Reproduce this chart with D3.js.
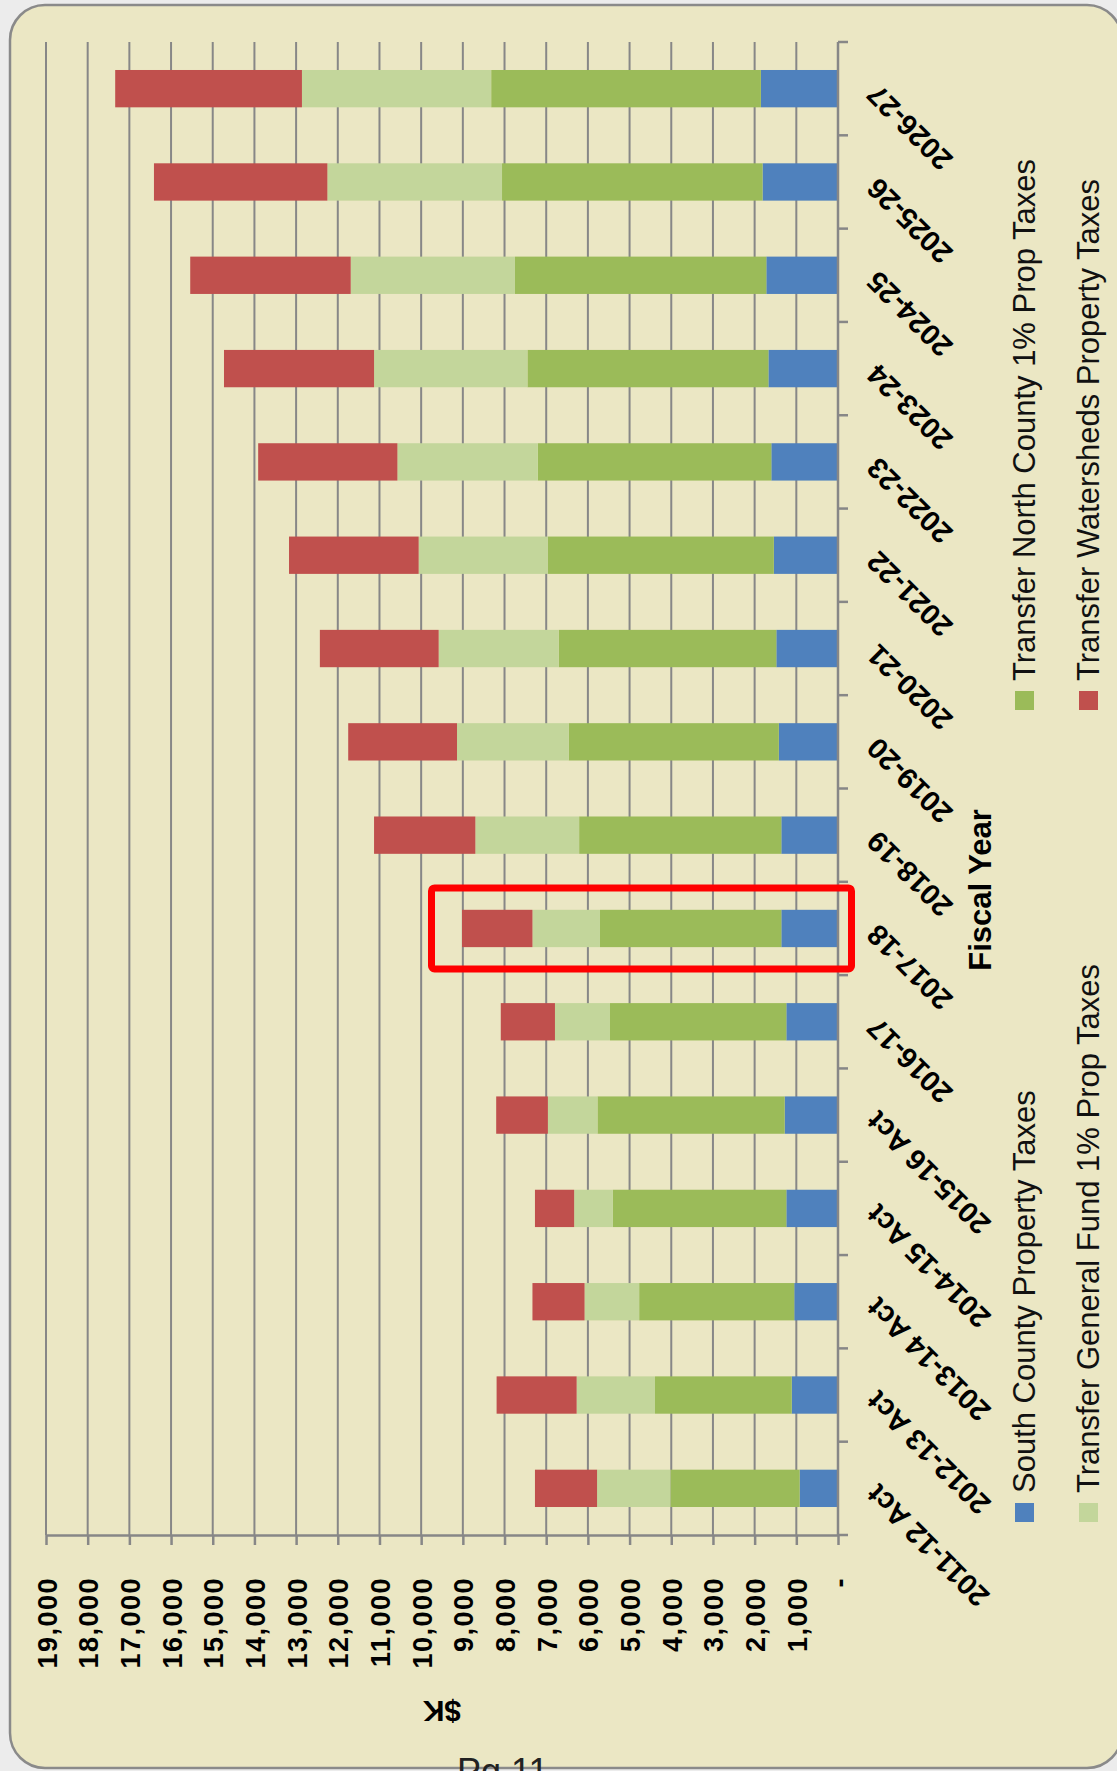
<!DOCTYPE html>
<html>
<head>
<meta charset="utf-8">
<script src="https://cdn.jsdelivr.net/npm/d3@7"></script>
<style>
  body { margin: 0; background: #ececec; }
  svg { display: block; font-family: "Liberation Sans", Arial, sans-serif; }
</style>
</head>
<body>
<svg id="chart"></svg>
<script>
var W = 1117, H = 1771;

// categories (bottom to top on the rotated page)
var categories = ['2011-12 Act', '2012-13 Act', '2013-14 Act', '2014-15 Act', '2015-16 Act',
    '2016-17', '2017-18', '2018-19', '2019-20', '2020-21', '2021-22', '2022-23',
    '2023-24', '2024-25', '2025-26', '2026-27'];
var seriesNames = ['South County Property Taxes', 'Transfer North County 1% Prop Taxes',
    'Transfer General Fund 1% Prop Taxes', 'Transfer Watersheds Property Taxes'];
var southCounty = [920, 1110, 1050, 1240, 1280, 1240, 1360, 1360, 1420, 1480, 1540, 1600, 1670, 1720, 1810, 1850];
var northCounty = [3100, 3280, 3720, 4160, 4490, 4230, 4350, 4850, 5040, 5220, 5420, 5600, 5780, 6030, 6250, 6470];
var generalFund = [1760, 1880, 1310, 930, 1190, 1320, 1620, 2490, 2680, 2880, 3100, 3370, 3680, 3940, 4190, 4540];
var watersheds = [1490, 1920, 1250, 940, 1240, 1300, 1690, 2430, 2610, 2850, 3110, 3340, 3600, 3850, 4160, 4480];
var valueTicks = d3.range(0, 19001, 1000);
var highlightYear = '2017-18';

var COLORS = ['#4f81bd', '#9bbb59', '#c3d69b', '#c0504d'];
var PLOT = { LEFT: 46, RIGHT: 838, TOP: 42, BOTTOM: 1535 };

var rows = categories.map(function (c, i) {
    return { cat: c, s0: southCounty[i], s1: northCounty[i], s2: generalFund[i], s3: watersheds[i] };
});
var stacked = d3.stack().keys(['s0', 's1', 's2', 's3'])(rows);

var xScale = d3.scaleLinear()
    .domain([0, 19000])
    .range([PLOT.RIGHT, PLOT.LEFT]);
var yScale = d3.scaleBand()
    .domain(categories)
    .range([PLOT.BOTTOM, PLOT.TOP])
    .paddingInner(0.6)
    .paddingOuter(0.3);
var step = yScale.step();

var svg = d3.select('#chart')
    .attr('width', W)
    .attr('height', H);

svg.append('rect')
    .attr('width', W).attr('height', H)
    .style('fill', '#ececec');
// slide panel
svg.append('rect')
    .attr('x', 10).attr('y', 5)
    .attr('width', 1112).attr('height', 1763)
    .attr('rx', 35)
    .style('fill', '#ebe7c4')
    .style('stroke', '#8a8a8a')
    .style('stroke-width', 2.5);

// gridlines
svg.append('g')
    .selectAll('line')
    .data(valueTicks.filter(function (d) { return d > 0; }))
    .enter().append('line')
    .attr('x1', function (d) { return xScale(d); })
    .attr('x2', function (d) { return xScale(d); })
    .attr('y1', PLOT.TOP)
    .attr('y2', PLOT.BOTTOM)
    .style('stroke', '#878787')
    .style('stroke-width', 2);

// stacked bars
svg.append('g')
    .selectAll('g')
    .data(stacked)
    .enter().append('g')
    .style('fill', function (d, i) { return COLORS[i]; })
    .selectAll('rect')
    .data(function (d) { return d; })
    .enter().append('rect')
    .attr('x', function (d) { return xScale(d[1]); })
    .attr('y', function (d) { return yScale(d.data.cat); })
    .attr('width', function (d) { return xScale(d[0]) - xScale(d[1]); })
    .attr('height', yScale.bandwidth());

// value axis (bottom of page)
var xAxis = d3.axisBottom(xScale)
    .tickValues(valueTicks)
    .tickSize(10)
    .tickSizeOuter(0)
    .tickFormat(function (d) { return d === 0 ? '-' : d3.format(',')(d); });
var gx = svg.append('g')
    .attr('transform', 'translate(0,' + PLOT.BOTTOM + ')')
    .call(xAxis);
gx.select('.domain').style('stroke', '#878787').style('stroke-width', 2.5);
gx.selectAll('.tick line').style('stroke', '#878787').style('stroke-width', 2.5);
gx.selectAll('.tick text')
    .attr('x', 0).attr('y', 0).attr('dy', null)
    .attr('transform', 'translate(10,42) rotate(-90)')
    .style('text-anchor', 'end')
    .style('font-family', '"Liberation Sans", Arial, sans-serif')
    .style('font-size', '27px')
    .style('font-weight', 'bold')
    .style('letter-spacing', '1.5px')
    .style('fill', '#000');

// category axis (right of bars)
var gy = svg.append('g')
    .attr('transform', 'translate(' + PLOT.RIGHT + ',0)')
    .call(d3.axisRight(yScale).tickSize(0).tickSizeOuter(0));
gy.select('.domain')
    .attr('d', 'M0,' + PLOT.TOP + 'V' + PLOT.BOTTOM)
    .style('stroke', '#878787').style('stroke-width', 2.5);
gy.selectAll('.tick text')
    .attr('x', 0).attr('y', 0).attr('dy', null)
    .attr('transform', 'translate(41,-6) rotate(-135)')
    .style('text-anchor', 'end')
    .style('font-family', '"Liberation Sans", Arial, sans-serif')
    .style('font-size', '29px')
    .style('font-weight', 'bold')
    .style('fill', '#000');
var bounds = categories.map(function (c) { return yScale(c) + yScale.bandwidth() + step * 0.3; });
bounds.push(PLOT.TOP);
gy.append('g')
    .selectAll('line')
    .data(bounds)
    .enter().append('line')
    .attr('x1', 0).attr('x2', 10)
    .attr('y1', function (d) { return d; })
    .attr('y2', function (d) { return d; })
    .style('stroke', '#878787')
    .style('stroke-width', 2.5);

// axis titles
svg.append('text')
    .attr('transform', 'translate(991,890) rotate(-90)')
    .style('text-anchor', 'middle')
    .style('font-size', '31px')
    .style('font-weight', 'bold')
    .text('Fiscal Year');
svg.append('text')
    .attr('transform', 'translate(' + ((PLOT.LEFT + PLOT.RIGHT) / 2) + ',1701) rotate(180)')
    .style('text-anchor', 'middle')
    .style('font-size', '30px')
    .style('font-weight', 'bold')
    .text('$K');

// legend, two rows by two columns, rotated with the page
var legendPos = [
    { bx: 1035, sy: 1493 }, { bx: 1035, sy: 681 },
    { bx: 1099, sy: 1493 }, { bx: 1099, sy: 681 }
];
var legend = svg.append('g')
    .selectAll('g')
    .data(seriesNames)
    .enter().append('g');
legend.append('rect')
    .attr('x', function (d, i) { return legendPos[i].bx - 20; })
    .attr('y', function (d, i) { return legendPos[i].sy + 10; })
    .attr('width', 19).attr('height', 19)
    .style('fill', function (d, i) { return COLORS[i]; });
legend.append('text')
    .attr('transform', function (d, i) {
        return 'translate(' + legendPos[i].bx + ',' + legendPos[i].sy + ') rotate(-90)';
    })
    .style('font-size', '31px')
    .style('fill', '#111')
    .text(function (d) { return d; });

// highlight box around one year
var hc = yScale(highlightYear) + yScale.bandwidth() / 2;
svg.append('rect')
    .attr('x', 431.5)
    .attr('y', hc - 40.5)
    .attr('width', 420)
    .attr('height', 81)
    .attr('rx', 3)
    .style('fill', 'none')
    .style('stroke', '#ff0000')
    .style('stroke-width', 7);

svg.append('text')
    .attr('x', 457).attr('y', 1784)
    .style('font-size', '36px')
    .style('fill', '#222')
    .text('Pg 11');
</script>
</body>
</html>
